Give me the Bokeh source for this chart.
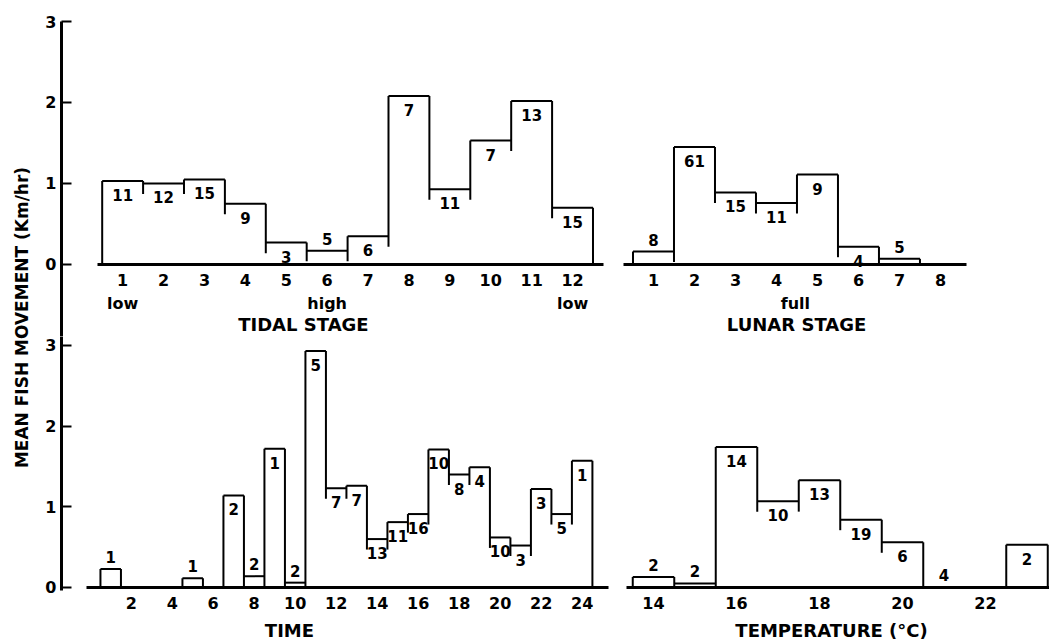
import numpy as np
from bokeh.plotting import figure
from bokeh.models import LinearAxis, FixedTicker, Range1d, ColumnDataSource
from bokeh.layouts import row, column
from bokeh.embed import file_html
from bokeh.resources import INLINE
from bokeh.core.properties import value

FONT = "DejaVu Sans"

# ---------------- data ----------------
tidal_stage = [1, 2, 3, 4, 5, 6, 7, 8, 9, 10, 11, 12]
tidal_speed = [1.03, 1.00, 1.05, 0.75, 0.27, 0.17, 0.35, 2.08, 0.93, 1.53, 2.02, 0.70]
tidal_n = [11, 12, 15, 9, 3, 5, 6, 7, 11, 7, 13, 15]
tidal_above = [6]
tidal_ticks = [1, 2, 3, 4, 5, 6, 7, 8, 9, 10, 11, 12]
tidal_notes = ["low", "high", "low"]
tidal_note_at = [1, 6, 12]

lunar_stage = [1, 2, 3, 4, 5, 6, 7]
lunar_speed = [0.16, 1.45, 0.89, 0.76, 1.11, 0.22, 0.07]
lunar_n = [8, 61, 15, 11, 9, 4, 5]
lunar_above = [1, 7]
lunar_ticks = [1, 2, 3, 4, 5, 6, 7, 8]

time_hour = [1, 5, 7, 8, 9, 10, 11, 12, 13, 14, 15, 16, 17, 18, 19, 20, 21, 22, 23, 24]
time_speed = [0.23, 0.115, 1.14, 0.14, 1.72, 0.06, 2.93, 1.23, 1.26, 0.60, 0.81, 0.91,
              1.71, 1.40, 1.49, 0.62, 0.52, 1.22, 0.91, 1.57]
time_n = [1, 1, 2, 2, 1, 2, 5, 7, 7, 13, 11, 16, 10, 8, 4, 10, 3, 3, 5, 1]
time_above = [1, 5, 8, 10]
time_ticks = [2, 4, 6, 8, 10, 12, 14, 16, 18, 20, 22, 24]

temp_c = [14, 15, 16, 17, 18, 19, 20, 21, 23]
temp_speed = [0.13, 0.05, 1.74, 1.07, 1.33, 0.84, 0.56, 0.0, 0.53]
temp_n = [2, 2, 14, 10, 13, 19, 6, 4, 2]
temp_above = [14, 15, 21]
temp_ticks = [14, 16, 18, 20, 22]

y_ticks = [0, 1, 2, 3]


# ---------------- helpers ----------------
def make_fig(w, h, xr, yr, top=0, left=0):
    p = figure(width=w, height=h, x_range=Range1d(*xr), y_range=Range1d(*yr),
               x_axis_type=None, y_axis_type=None, output_backend="svg",
               toolbar_location=None, min_border_left=left, min_border_right=0,
               min_border_top=top, min_border_bottom=0)
    p.outline_line_color = None
    p.background_fill_color = "white"
    p.border_fill_color = "white"
    return p


def add_xaxis(p, ticks, bounds):
    ax = LinearAxis(ticker=FixedTicker(ticks=ticks), fixed_location=0, bounds=bounds)
    ax.axis_line_width = 3
    ax.axis_line_color = "black"
    ax.major_tick_in = 0
    ax.major_tick_out = 0
    ax.major_tick_line_color = None
    ax.minor_tick_line_color = None
    ax.major_label_text_font = FONT
    ax.major_label_text_font_style = "bold"
    ax.major_label_text_font_size = "16px"
    ax.major_label_text_color = "black"
    ax.major_label_standoff = 10
    p.add_layout(ax, "below")


def add_yaxis(p, bounds):
    ay = LinearAxis(ticker=FixedTicker(ticks=y_ticks), bounds=bounds)
    ay.axis_line_width = 3
    ay.axis_line_color = "black"
    ay.major_tick_in = 10
    ay.major_tick_out = 0
    ay.major_tick_line_width = 2
    ay.major_tick_line_color = "black"
    ay.minor_tick_line_color = None
    ay.major_label_text_font = FONT
    ay.major_label_text_font_style = "bold"
    ay.major_label_text_font_size = "16px"
    ay.major_label_text_color = "black"
    ay.major_label_standoff = 5
    p.add_layout(ay, "left")


def draw_hist(p, xs, hs, ns, above, over=0.13):
    bars = [(x, h) for x, h in zip(xs, hs) if h > 0]
    x0, y0, x1, y1 = [], [], [], []
    for x, h in bars:
        x0.append(x - 0.5); x1.append(x + 0.5); y0.append(h); y1.append(h)
    edges = {}
    for x, h in bars:
        edges.setdefault(round(x - 0.5, 3), [0.0, 0.0])[1] = h
        edges.setdefault(round(x + 0.5, 3), [0.0, 0.0])[0] = h
    for e, (hl, hr) in edges.items():
        hi, lo = max(hl, hr), min(hl, hr)
        bot = 0.0 if lo <= 0 else max(lo - over, 0.0)
        x0.append(e); x1.append(e); y0.append(hi); y1.append(bot)
    p.segment(x0=x0, y0=y0, x1=x1, y1=y1, line_color="black", line_width=2)

    offs = [-12 if x in above else 14 for x in xs]
    src = ColumnDataSource(dict(x=xs, y=hs, t=[str(n) for n in ns], off=offs))
    p.text(x="x", y="y", text="t", y_offset="off", source=src, text_align="center",
           text_baseline="middle", text_font=value(FONT), text_font_style="bold",
           text_font_size="15px", text_color="black")


def add_text(p, xs, texts, yoff, size="16px"):
    p.text(x=xs, y=[0] * len(xs), text=texts, y_offset=yoff, text_align="center",
           text_baseline="middle", text_font=value(FONT), text_font_style="bold",
           text_font_size=size, text_color="black")


# ---------------- panels ----------------
top_y = (-0.889, 3.0)
bot_y = (-0.6815, 3.110)

tl = make_fig(578, 336, (-0.495, 12.977), top_y, top=21, left=27)
draw_hist(tl, tidal_stage, tidal_speed, tidal_n, tidal_above)
add_xaxis(tl, tidal_ticks, (0.385, 12.76))
add_yaxis(tl, top_y)
add_text(tl, tidal_note_at, tidal_notes, 39)
add_text(tl, [5.42], ["TIDAL STAGE"], 60, "18px")

bl = make_fig(578, 306, (-1.4, 25.48), bot_y, top=0, left=27)
draw_hist(bl, time_hour, time_speed, time_n, time_above)
add_xaxis(bl, time_ticks, (-0.18, 25.28))
add_yaxis(bl, (-0.04, 3.110))
add_text(bl, [9.72], ["TIME"], 43, "18px")

tr = make_fig(437, 336, (0.0, 10.66), top_y, top=21)
draw_hist(tr, lunar_stage, lunar_speed, lunar_n, lunar_above)
add_xaxis(tr, lunar_ticks, (0.27, 8.63))
add_text(tr, [4.46], ["full"], 39)
add_text(tr, [4.49], ["LUNAR STAGE"], 60, "18px")

br = make_fig(437, 306, (13.012, 23.542), bot_y, top=0)
draw_hist(br, temp_c, temp_speed, temp_n, temp_above)
add_xaxis(br, temp_ticks, (13.35, 23.542))
add_text(br, [18.29], ["TEMPERATURE (°C)"], 43, "18px")

lab = figure(width=34, height=642, x_range=Range1d(0, 34), y_range=Range1d(0, 642),
             x_axis_type=None, y_axis_type=None, output_backend="svg",
             toolbar_location=None, min_border=0)
lab.outline_line_color = None
lab.text(x=[21], y=[642 - 317], text=["MEAN FISH MOVEMENT (Km/hr)"], angle=np.pi / 2,
         text_align="center", text_baseline="middle", text_font=value(FONT),
         text_font_style="bold", text_font_size="17px", text_color="black")

layout = row(lab, column(tl, bl), column(tr, br))
open("out.html", "w").write(file_html(layout, INLINE))
